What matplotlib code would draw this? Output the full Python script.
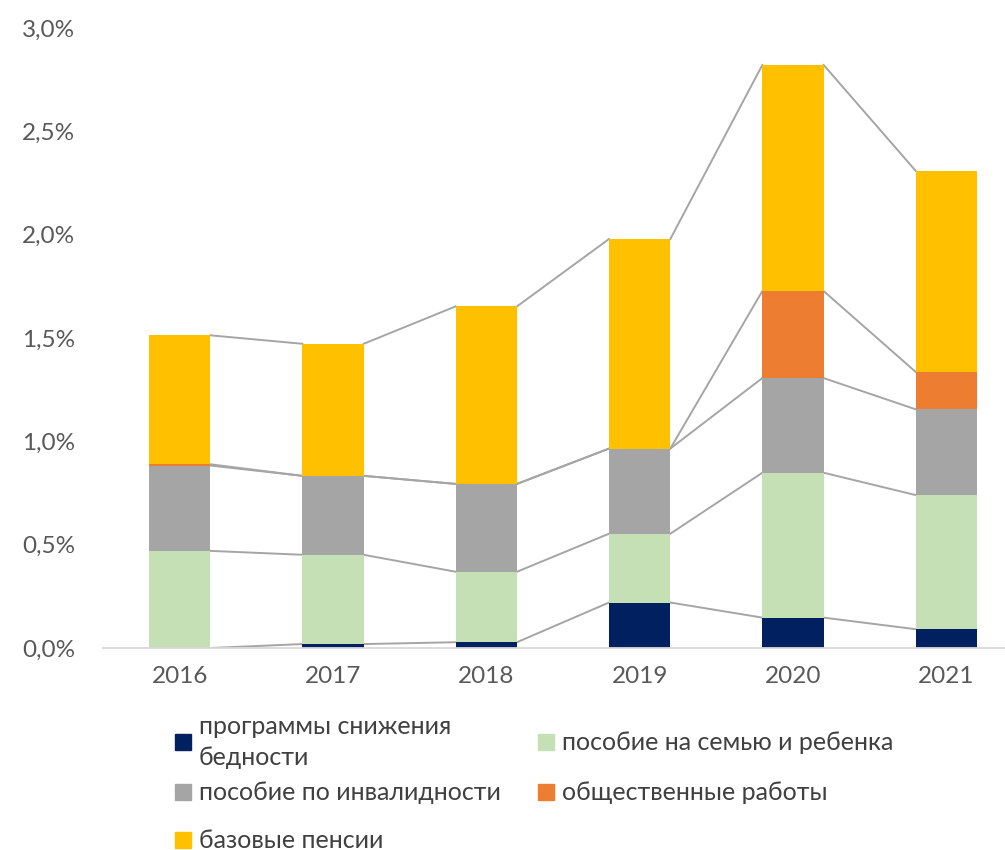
import matplotlib.pyplot as plt
import numpy as np
from matplotlib.patches import Rectangle

plt.rcParams['font.family'] = ['Lato', 'DejaVu Sans']

years = ["2016", "2017", "2018", "2019", "2020", "2021"]
labels = ["программы снижения\nбедности", "пособие на семью и ребенка",
          "пособие по инвалидности", "общественные работы", "базовые пенсии"]
poverty = [0.000, 0.019, 0.028, 0.220, 0.147, 0.091]
family = [0.470, 0.432, 0.341, 0.333, 0.701, 0.649]
disability = [0.413, 0.382, 0.425, 0.412, 0.458, 0.415]
public_works = [0.006, 0.0, 0.0, 0.0, 0.421, 0.181]
pensions = [0.624, 0.639, 0.859, 1.014, 1.094, 0.973]
yticks = ["0,0%", "0,5%", "1,0%", "1,5%", "2,0%", "2,5%", "3,0%"]

colors = ["#002060", "#C5E0B4", "#A5A5A5", "#ED7D31", "#FFC000"]
series = [poverty, family, disability, public_works, pensions]

fig = plt.figure(figsize=(10.05, 8.5), dpi=100)
ax = fig.add_axes([103 / 1005, 202 / 850, 920 / 1005, 620 / 850])

x = np.arange(len(years))
w = 0.40
bottom = np.zeros(len(years))
for vals, c in zip(series, colors):
    ax.bar(x, vals, w, bottom=bottom, color=c, zorder=2)
    bottom = bottom + np.array(vals)
    # серийные линии между столбцами
    for i in range(len(years) - 1):
        ax.plot([x[i] + w / 2, x[i + 1] - w / 2], [bottom[i], bottom[i + 1]],
                color="#A5A5A5", lw=1.4, zorder=1)

ax.set_xlim(-0.5, 5.5)
ax.set_ylim(0, 3.0)
ax.set_yticks(np.arange(0, 3.01, 0.5))
ax.set_yticklabels(yticks)
ax.set_xticks(x)
ax.set_xticklabels(years)
ax.tick_params(axis="both", length=0, labelsize=17.5, colors="#595959")
ax.tick_params(axis="x", pad=13)
ax.tick_params(axis="y", pad=20)
for s in ["top", "right", "left"]:
    ax.spines[s].set_visible(False)
ax.spines["bottom"].set_color("#D9D9D9")
ax.spines["bottom"].set_linewidth(1.3)

# легенда
pos = [(175, 742), (538, 742), (175, 792), (538, 792), (175, 840)]
for (px, py), lab, c in zip(pos, labels, colors):
    fig.patches.append(Rectangle((px / 1005, (850 - py - 8) / 850), 16 / 1005, 16 / 850,
                                 transform=fig.transFigure, color=c))
    fig.text((px + 24) / 1005, (850 - py) / 850, lab, fontsize=18, color="#404040",
             va="center", ha="left", linespacing=1.4)

fig.savefig("out.png", dpi=100)
